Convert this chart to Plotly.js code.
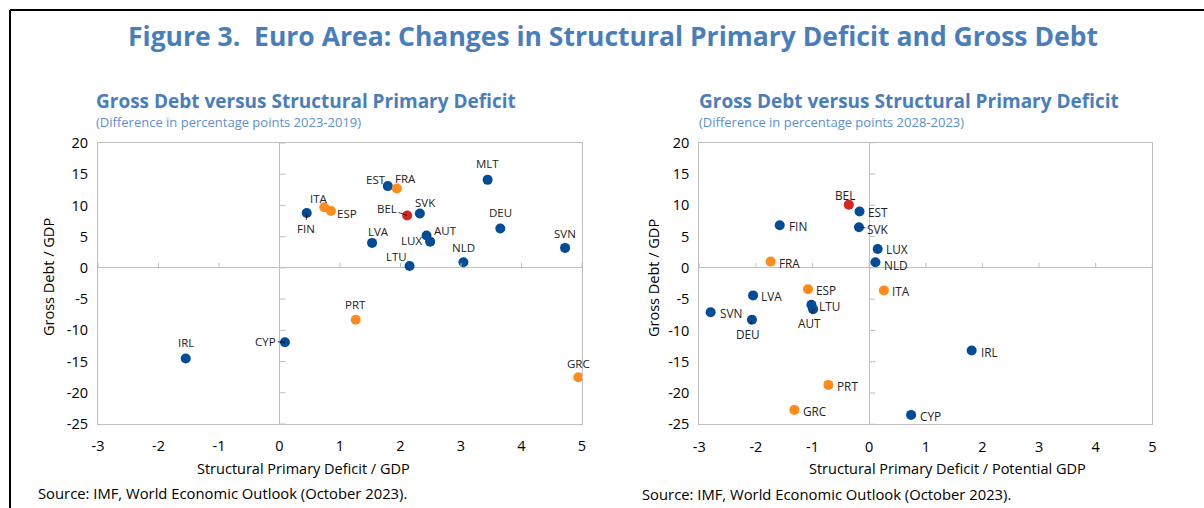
<!DOCTYPE html>
<html>
<head>
<meta charset="utf-8">
<script src="https://cdn.plot.ly/plotly-3.0.1.min.js"></script>
<style>
  html, body { margin: 0; padding: 0; background: #fff; }
  #chart { width: 1204px; height: 508px; }
</style>
</head>
<body>
<div id="chart"></div>
<script>
// ---------- Data: left panel (change 2023 vs 2019) ----------
const countries1 = ["FIN","ITA","ESP","EST","FRA","BEL","SVK","MLT","DEU","LVA","AUT","LUX","LTU","NLD","SVN","PRT","CYP","IRL","GRC"];
const deficit1   = [0.45, 0.74, 0.85, 1.79, 1.94, 2.11, 2.32, 3.44, 3.65, 1.53, 2.43, 2.49, 2.15, 3.04, 4.72, 1.26, 0.09, -1.55, 4.94];
const debt1      = [8.8, 9.7, 9.1, 13.1, 12.7, 8.4, 8.7, 14.1, 6.3, 4.0, 5.2, 4.2, 0.3, 0.9, 3.2, -8.3, -11.9, -14.5, -17.5];

// ---------- Data: right panel (change 2028 vs 2023) ----------
const countries2 = ["BEL","EST","FIN","SVK","LUX","NLD","FRA","ESP","ITA","LVA","LTU","AUT","SVN","DEU","IRL","PRT","GRC","CYP"];
const deficit2   = [-0.36, -0.17, -1.58, -0.18, 0.15, 0.11, -1.74, -1.08, 0.26, -2.05, -1.02, -0.99, -2.80, -2.07, 1.81, -0.72, -1.32, 0.74];
const debt2      = [10.1, 9.0, 6.8, 6.5, 3.0, 0.9, 1.0, -3.4, -3.6, -4.4, -5.9, -6.6, -7.1, -8.3, -13.2, -18.7, -22.7, -23.5];

const orangeCountries = ["ITA","ESP","FRA","PRT","GRC"];
const redCountries    = ["BEL"];

const xTicks = [-3,-2,-1,0,1,2,3,4,5];
const xTickLabels = ["-3","-2","-1","0","1","2","3","4","5"];
const yTicks = [20,15,10,5,0,-5,-10,-15,-20,-25];
const yTickLabels = ["20","15","10","5","0","-5","-10","-15","-20","-25"];

// ---------- Styles ----------
const BLUE = "#004C97", ORANGE = "#FF8C1A", RED = "#D7261E";
const TITLE_BLUE = "#4A7EBB", SUB_BLUE = "#5B8FD0";
const FONT = "Open Sans, Noto Sans, sans-serif";
const W = 1204, H = 508;

function colorOf(c) {
  if (redCountries.includes(c)) return RED;
  if (orangeCountries.includes(c)) return ORANGE;
  return BLUE;
}

// label offsets in pixels [dx right, dy up, leader]
const off1 = {
  MLT:[0,16], EST:[-12,7], FRA:[9,10], ITA:[-5,9], ESP:[16,-2], FIN:[-1,-16,1],
  BEL:[-20,7,1], SVK:[6,11], DEU:[0,16], LVA:[6,11], AUT:[19,5], LUX:[-19,1],
  LTU:[-13,10], NLD:[0,15], SVN:[0,14], PRT:[0,15], CYP:[-19,1,1], IRL:[0,16], GRC:[0,14]
};
const off2 = {
  BEL:[-4,10], EST:[18,0], FIN:[18,-1], SVK:[19,-2,1], LUX:[19,0], NLD:[21,-3],
  FRA:[19,-1], ESP:[18,-1], ITA:[17,-1], LVA:[18,-1], LTU:[18,-1], AUT:[-4,-14,1],
  SVN:[20,-1], DEU:[-4,-14,1], IRL:[18,-2], PRT:[19,-1], GRC:[21,-1], CYP:[19,-1]
};

function trace(countries, xs, ys, xa, ya) {
  return {
    type: "scatter", mode: "markers",
    x: xs, y: ys, xaxis: xa, yaxis: ya,
    text: countries, hoverinfo: "text",
    marker: { size: 10, color: countries.map(colorOf), line: { width: 0 } },
    showlegend: false
  };
}

function labels(countries, xs, ys, xref, yref, offs, size) {
  return countries.map((c, i) => {
    const o = offs[c] || [0, 14];
    const a = {
      x: xs[i], y: ys[i], xref: xref, yref: yref, text: c,
      font: { family: FONT, size: size, color: "#222" }
    };
    if (o[2]) {
      a.showarrow = true; a.arrowhead = 0; a.arrowwidth = 0.8; a.arrowcolor = "#000";
      a.ax = o[0]; a.ay = -o[1]; a.standoff = 0;
    } else {
      a.showarrow = false; a.xshift = o[0]; a.yshift = o[1];
    }
    return a;
  });
}

function zeroTicks(xref, yref) {
  const s = [];
  yTicks.forEach(v => s.push({
    type: "line", xref: xref, yref: yref, xsizemode: "pixel", xanchor: 0,
    x0: 0, x1: 6, y0: v, y1: v, line: { color: "#BFBFBF", width: 1 }
  }));
  xTicks.forEach(v => s.push({
    type: "line", xref: xref, yref: yref, ysizemode: "pixel", yanchor: 0,
    x0: v, x1: v, y0: 0, y1: 5, line: { color: "#BFBFBF", width: 1 }
  }));
  return s;
}

function xAxis(domain) {
  return {
    domain: domain, range: [-3, 5], tickvals: xTicks, ticktext: xTickLabels, ticks: "",
    showgrid: false, zeroline: true, zerolinecolor: "#BFBFBF", zerolinewidth: 1,
    showline: true, mirror: true, linecolor: "#BFBFBF", linewidth: 1,
    tickfont: { family: FONT, size: 14.5, color: "#000" },
    ticklabelstandoff: 9,
    fixedrange: true
  };
}
function yAxis(domain, anchor) {
  return {
    domain: domain, range: [-25, 20], tickvals: yTicks, ticktext: yTickLabels, ticks: "", anchor: anchor,
    showgrid: false, zeroline: true, zerolinecolor: "#BFBFBF", zerolinewidth: 1,
    showline: true, mirror: true, linecolor: "#BFBFBF", linewidth: 1,
    tickfont: { family: FONT, size: 14.5, color: "#000" },
    ticklabelstandoff: 6,
    fixedrange: true
  };
}

const px = v => v / W, py = v => 1 - v / H;

function txt(text, x, y, size, color, anchor, angle) {
  return { text: text, x: px(x), y: py(y), xref: "paper", yref: "paper",
    xanchor: anchor || "left", yanchor: "middle", showarrow: false, textangle: angle || 0,
    font: { family: FONT, size: size, color: color } };
}

const annotations = [
  txt("<b>Figure 3.  Euro Area: Changes in Structural Primary Deficit and Gross Debt</b>", 613, 36, 26.5, TITLE_BLUE, "center"),
  txt("<b>Gross Debt versus Structural Primary Deficit</b>", 94, 101, 19, TITLE_BLUE),
  txt("(Difference in percentage points 2023-2019)", 94, 122, 13, SUB_BLUE),
  txt("<b>Gross Debt versus Structural Primary Deficit</b>", 697, 101, 19, TITLE_BLUE),
  txt("(Difference in percentage points 2028-2023)", 697, 122, 13, SUB_BLUE),
  txt("Structural Primary Deficit / GDP", 303, 468, 14.5, "#000", "center"),
  txt("Structural Primary Deficit / Potential GDP", 947, 468, 14.5, "#000", "center"),
  txt("Gross Debt / GDP", 48, 277, 14.5, "#000", "center", -90),
  txt("Gross Debt / GDP", 653, 278, 14.5, "#000", "center", -90),
  txt("Source: IMF, World Economic Outlook (October 2023).", 36, 493, 14.8, "#000"),
  txt("Source: IMF, World Economic Outlook (October 2023).", 640, 494, 14.8, "#000")
].concat(labels(countries1, deficit1, debt1, "x", "y", off1, 11.5))
 .concat(labels(countries2, deficit2, debt2, "x2", "y2", off2, 11.8));

const shapes = [
  { type: "line", xref: "paper", yref: "paper", x0: px(10), x1: 1.01, y0: py(10), y1: py(10),
    line: { color: "#000", width: 2 } },
  { type: "line", xref: "paper", yref: "paper", x0: px(10), x1: px(10), y0: py(10), y1: -0.01,
    line: { color: "#000", width: 2 } }
].concat(zeroTicks("x", "y")).concat(zeroTicks("x2", "y2"));

const layout = {
  width: W, height: H,
  margin: { l: 0, r: 0, t: 0, b: 0 },
  paper_bgcolor: "#fff", plot_bgcolor: "#fff",
  font: { family: FONT },
  xaxis: Object.assign(xAxis([px(98), px(582)]), { anchor: "y" }),
  yaxis: yAxis([1 - 424 / H, 1 - 143 / H], "x"),
  xaxis2: Object.assign(xAxis([px(699.3), px(1152.3)]), { anchor: "y2" }),
  yaxis2: yAxis([1 - 424.3 / H, 1 - 142.7 / H], "x2"),
  annotations: annotations,
  shapes: shapes
};

Plotly.newPlot("chart", [
  trace(countries1, deficit1, debt1, "x", "y"),
  trace(countries2, deficit2, debt2, "x2", "y2")
], layout, { displayModeBar: false, staticPlot: true });
</script>
</body>
</html>
